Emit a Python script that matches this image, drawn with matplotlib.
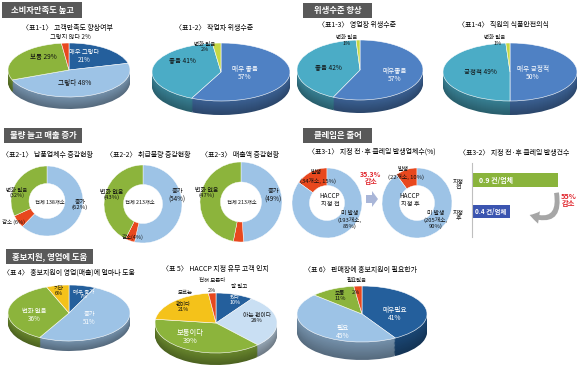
import matplotlib
matplotlib.use("Agg")
import matplotlib.pyplot as plt
from matplotlib.patches import Rectangle
from matplotlib.colors import to_rgb
import numpy as np

plt.rcParams['font.family'] = ['Noto Sans CJK KR', 'DejaVu Sans']

# ---------------- data ----------------
headers = ['소비자만족도 높고', '위생수준 향상', '물량 늘고 매출 증가', '클레임은 줄어', '홍보지원, 영업에 도움']

t11 = '〈표1-1〉 고객만족도 향상여부'
cat11 = ['매우 그렇다', '그렇다', '보통', '그렇지 않다']
val11 = [21, 48, 29, 2]

t12 = '〈표1-2〉 작업자 위생수준'
cat12 = ['매우 좋음', '좋음', '변화 없음']
val12 = [57, 41, 2]

t13 = '〈표1-3〉 영업장 위생수준'
cat13 = ['매우좋음', '좋음', '변화 없음']
val13 = [57, 42, 1]

t14 = '〈표1-4〉 직원의 식품안전의식'
cat14 = ['매우 긍정적', '긍정적', '변화 없음']
val14 = [50, 49, 1]

t21 = '〈표2-1〉 납품업체수 증감현황'
cat21 = ['증가', '감소', '변화 없음']
val21 = [62, 6, 32]
tot21 = '전체 138개소'

t22 = '〈표2-2〉 취급물량 증감현황'
val22 = [54, 4, 43]
tot22 = '전체 213개소'

t23 = '〈표2-3〉 매출액 증감현황'
val23 = [49, 4, 47]
tot23 = '전체 213개소'

t31 = '〈표3-1〉 지정 전·후 클레임 발생업체수(%)'
cat31 = ['발생', '미 발생']
cnt31_before = [34, 193]
val31_before = [15, 85]
cnt31_after = [22, 205]
val31_after = [10, 90]
reduce31 = '35.3%'

t32 = '〈표3-2〉 지정 전·후 클레임 발생건수'
cat32 = ['지정\n전', '지정\n후']
val32 = [0.9, 0.4]
reduce32 = '55%'

t4 = '〈표 4〉 홍보지원이 영업(매출)에 얼마나 도움'
cat4 = ['매우 증가', '증가', '변화 없음', '기타']
val4 = [7, 51, 36, 6]

t5 = '〈표 5〉 HACCP 지정 유무 고객 인지'
cat5 = ['잘 알고 있다', '아는 편이다', '보통이다', '모르는 편이다', '전혀 모른다']
val5 = [10, 28, 39, 21, 2]

t6 = '〈표 6〉 판매장에 홍보지원이 필요한가'
cat6 = ['매우필요', '필요', '보통', '필요없음']
val6 = [41, 45, 11, 2]

# ---------------- colours ----------------
DBLUE = '#245f9c'
LBLUE = '#9dc3e6'
VLBLUE = '#c9dff3'
GREEN = '#8cb43c'
RED = '#e8481e'
MBLUE = '#4f81c4'
CYAN = '#4bacc6'
YGREEN = '#c5d845'
YELLOW = '#f4c21a'
HEADER = '#595959'

W, H = 580, 368
fig = plt.figure(figsize=(W / 100, H / 100), dpi=100)
fig.patch.set_facecolor('white')

bg = fig.add_axes([0, 0, 1, 1], zorder=-5)
bg.set_xlim(0, W)
bg.set_ylim(H, 0)
bg.axis('off')

LS = 1.2  # label scale


def T(x, y, s, size=4.0, color='#111111', weight='normal', ha='center', va='center', scale=True, **kw):
    fig.text(x / W, 1 - y / H, s, fontsize=size * (LS if scale else 1), color=color,
             fontweight=weight, ha=ha, va=va, linespacing=1.05, **kw)


def darken(c, f):
    r, g, b = to_rgb(c)
    return (r * f, g * f, b * f)


def pie3d(cx, cy, rx, ry, depth, values, colors, startangle=90, counterclock=False):
    ax = fig.add_axes([(cx - rx) / W, 1 - (cy + ry + depth) / H,
                       2 * rx / W, (2 * ry + depth) / H])
    d = depth / ry
    n = 14
    for k in range(n, 0, -1):
        f = 0.55 + 0.2 * (1 - k / n)
        ax.pie(values, colors=[darken(c, f) for c in colors], radius=1,
               center=(0, -d * k / n), startangle=startangle,
               counterclock=counterclock, wedgeprops=dict(linewidth=0))
    ax.pie(values, colors=colors, radius=1, center=(0, 0), startangle=startangle,
           counterclock=counterclock,
           wedgeprops=dict(linewidth=0.4, edgecolor='white'))
    ax.set_xlim(-1, 1)
    ax.set_ylim(-1 - d, 1)
    ax.set_aspect('auto')
    ax.axis('off')
    return ax


def donut(cx, cy, rx, ry, values, colors, startangle=90, counterclock=False, hole=0.5):
    ax = fig.add_axes([(cx - rx) / W, 1 - (cy + ry) / H, 2 * rx / W, 2 * ry / H])
    ax.pie(values, colors=colors, radius=1, startangle=startangle,
           counterclock=counterclock,
           wedgeprops=dict(width=1 - hole, linewidth=0.3, edgecolor='white'))
    ax.set_xlim(-1, 1)
    ax.set_ylim(-1, 1)
    ax.set_aspect('auto')
    ax.axis('off')
    return ax


# ---------------- headers ----------------
hdr_boxes = [(2, 2, 80, 16), (303, 3, 69, 15), (4, 128, 78, 15), (303, 128, 69, 15), (6, 249, 87, 15)]
for (x0, y0, w, h), s in zip(hdr_boxes, headers):
    bg.add_patch(Rectangle((x0, y0), w, h, color=HEADER, lw=0))
    T(x0 + w / 2, y0 + h / 2, s, size=6.0, color='white', weight='bold', scale=False)

# ---------------- row 1 ----------------
TS = 5.0
TC = '#000000'
T(67, 28, t11, size=TS, color=TC, scale=False)
pie3d(69, 70, 61, 27, 12, val11, [DBLUE, LBLUE, GREEN, RED])
T(70, 37, f'{cat11[3]} {val11[3]}%', size=3.8)
T(84, 56, f'{cat11[0]}\n{val11[0]}%', size=3.8, color='white')
T(43, 57, f'{cat11[2]} {val11[2]}%', size=3.9)
T(75, 83, f'{cat11[1]} {val11[1]}%', size=4.0)

T(214, 28, t12, size=TS, color=TC, scale=False)
pie3d(221, 72, 69, 29, 14, val12, [MBLUE, CYAN, YGREEN])
T(205, 47, f'{cat12[2]}\n{val12[2]}%', size=3.3)
T(182, 61, f'{cat12[1]} {val12[1]}%', size=3.9)
T(245, 73, f'{cat12[0]}\n{val12[0]}%', size=4.0, color='white')

T(357, 25, t13, size=TS, color=TC, scale=False)
pie3d(360, 70, 63, 30, 13, val13, [MBLUE, CYAN, YGREEN])
T(347, 37, cat13[2], size=3.3)
T(347, 43.5, f'{val13[2]}%', size=3.3)
T(328, 68, f'{cat13[1]} {val13[1]}%', size=3.9)
T(395, 75, f'{cat13[0]}\n{val13[0]}%', size=4.0, color='white')

T(503, 25, t14, size=TS, color=TC, scale=False)
pie3d(510, 72, 67, 29, 14, val14, [MBLUE, CYAN, YGREEN])
T(495, 37, cat14[2], size=3.3)
T(498, 43.5, f'{val14[2]}%', size=3.3)
T(480, 72, f'{cat14[1]} {val14[1]}%', size=3.9)
T(533, 73, f'{cat14[0]}\n{val14[0]}%', size=4.0, color='white')

# ---------------- row 2: donuts ----------------
dcol = [LBLUE, RED, GREEN]
T(47, 155, t21, size=TS, color=TC, scale=False)
donut(47, 201, 36, 35, val21, dcol)
T(17, 193, f'{cat21[2]}\n({val21[2]}%)', size=3.3)
T(80, 205, f'{cat21[0]}\n({val21[0]}%)', size=3.6)
T(50, 202, tot21, size=3.2)
T(14, 222, f'{cat21[1]} ({val21[1]}%)', size=3.3)

T(148, 155, t22, size=TS, color=TC, scale=False)
donut(143, 204, 39, 39, val22, dcol)
T(112, 195, f'{cat21[2]}\n({val22[2]}%)', size=3.6)
T(177, 195, f'{cat21[0]}\n({val22[0]}%)', size=3.8)
T(140, 202, tot22, size=3.2)
T(133, 237, f'{cat21[1]}({val22[1]}%)', size=3.3)

T(240, 155, t23, size=TS, color=TC, scale=False)
donut(241, 202, 41, 40, val23, dcol)
T(207, 193, f'{cat21[2]}\n({val23[2]}%)', size=3.6)
T(273, 195, f'{cat21[0]}\n({val23[0]}%)', size=3.8)
T(242, 202, tot23, size=3.2)

# ---------------- row 2: claims ----------------
T(372, 152, t31, size=TS, color=TC, scale=False)
donut(327, 203, 35, 35, val31_before, [RED, LBLUE], counterclock=True, hole=0.5)
donut(417, 203, 35, 35, val31_after, [RED, LBLUE], counterclock=True, hole=0.5)
T(316, 172, cat31[0], size=3.6)
T(318, 181, f'({cnt31_before[0]}개소, {val31_before[0]}%)', size=3.5)
T(330, 200, 'HACCP\n지정 전', size=3.8)
T(350, 220, f'{cat31[1]}\n({cnt31_before[1]}개소,\n{val31_before[1]}%)', size=3.5)
T(403, 170, cat31[0], size=3.6)
T(406, 177, f'({cnt31_after[0]}개소, {val31_after[0]}%)', size=3.5)
T(410, 200, 'HACCP\n지정 후', size=3.8)
T(436, 220, f'{cat31[1]}\n({cnt31_after[1]}개소,\n{val31_after[1]}%)', size=3.5)
T(371, 178, f'{reduce31}\n감소', size=4.2, color='#e0242b', weight='bold')
bg.arrow(366, 199, 6, 0, width=8, head_width=16, head_length=6, color='#a9b6d8',
         length_includes_head=False, lw=0)

T(514, 153, t32, size=TS, color=TC, scale=False)
bax = fig.add_axes([472 / W, 1 - 237 / H, 95 / W, 74 / H])
bax.patch.set_visible(False)
bax.barh([0, 1], val32, height=0.44, color=['#8ab43c', '#3b55b0'])
bax.set_xlim(0, 1.0)
bax.set_ylim(1.81, -0.54)
for s in ['top', 'right', 'bottom']:
    bax.spines[s].set_visible(False)
bax.spines['left'].set_color('#bfbfbf')
bax.set_xticks([])
bax.set_yticks([])
bax.text(0.25, 0, f'{val32[0]} 건/업체', color='white', fontsize=5.0, va='center', ha='center', weight='bold')
bax.text(0.2, 1, f'{val32[1]} 건/업체', color='white', fontsize=4.6, va='center', ha='center', weight='bold')
T(458, 185, cat32[0], size=3.6)
T(458, 216, cat32[1], size=3.6)
bg.annotate('', xy=(527, 214), xytext=(556, 190),
            arrowprops=dict(arrowstyle='simple,head_width=0.9,head_length=0.7,tail_width=0.35',
                            connectionstyle='arc3,rad=-0.9', color='#a6a6a6', lw=0))
T(569, 200, f'{reduce32}\n감소', size=4.4, color='#e0242b', weight='bold')

# ---------------- row 3 ----------------
T(69, 273, t4, size=TS, color=TC, scale=False)
pie3d(69, 313, 61, 28, 10, val4, [DBLUE, LBLUE, GREEN, YELLOW])
T(59, 291, f'{cat4[3]}\n{val4[3]}%', size=3.3)
T(84, 294, f'{cat4[0]}\n{val4[0]}%', size=3.3, color='white')
T(34, 315, f'{cat4[2]}\n{val4[2]}%', size=3.8, color='white')
T(89, 318, f'{cat4[1]}\n{val4[1]}%', size=3.8, color='white')

T(215, 269, t5, size=TS, color=TC, scale=False)
pie3d(216, 323, 61, 30, 12, val5, [DBLUE, VLBLUE, GREEN, YELLOW, RED])
T(212, 280, cat5[4], size=3.3)
T(212, 291, f'{val5[4]}%', size=3.3)
T(239, 287, '잘 알고', size=3.3)
T(235, 300, f'있다\n{val5[0]}%', size=3.3, color='white')
T(185, 292, '모르는', size=3.3)
T(183, 307, f'편이다\n{val5[3]}%', size=3.3)
T(257, 318, f'{cat5[1]}\n{val5[1]}%', size=3.5)
T(190, 337, f'{cat5[2]}\n{val5[2]}%', size=4.4, color='white')

T(360, 270, t6, size=TS, color=TC, scale=False)
pie3d(362, 314, 65, 28, 18, val6, [DBLUE, LBLUE, GREEN, RED])
T(357, 280, cat6[3], size=3.3)
T(340, 296, f'{cat6[2]}\n{val6[2]}%', size=3.4)
T(356, 292, f'{val6[3]}%', size=3.3)
T(395, 314, f'{cat6[0]}\n{val6[0]}%', size=4.0, color='white')
T(343, 332, f'{cat6[1]}\n{val6[1]}%', size=4.0, color='white')

fig.savefig('out.png', dpi=100, facecolor='white')
